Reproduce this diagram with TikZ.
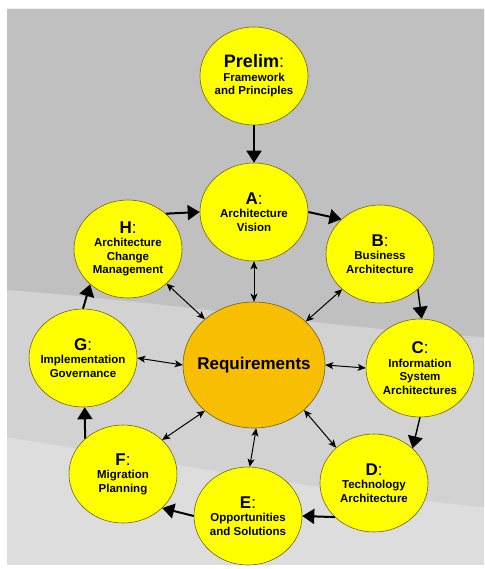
\documentclass[tikz,border=0pt]{standalone}
\usepackage{fontspec}
\setmainfont{Liberation Sans}
\usetikzlibrary{shapes.geometric,arrows.meta}
\definecolor{phase}{RGB}{255,255,0}
\definecolor{req}{RGB}{248,190,0}
\definecolor{rim}{RGB}{110,100,30}
\definecolor{bgtop}{RGB}{192,192,192}
\definecolor{bgmid}{RGB}{210,210,210}
\definecolor{bglow}{RGB}{221,221,221}
\newcommand{\phasename}[1]{{\fontsize{17}{17}\selectfont #1\mdseries:}}
\begin{document}
\begin{tikzpicture}[x=1pt,y=-1pt]
\tikzstyle{ph}=[ellipse, draw=rim, fill=phase, line width=0.6pt, minimum width=108pt, minimum height=98pt, inner xsep=-15pt, inner ysep=0pt, align=center, font=\fontsize{11.5}{13.5}\selectfont\bfseries]
\tikzstyle{rq}=[ph, fill=req, minimum width=142pt, minimum height=126pt, inner xsep=-30pt, font=\fontsize{17}{17}\selectfont\bfseries]
\tikzstyle{fw}=[line width=2pt, -{Triangle[length=12pt,width=15pt]}]
\tikzstyle{fwthin}=[fw, line width=1.4pt]
\tikzstyle{bw}=[line width=1pt, {Stealth[length=8pt,width=7pt,inset=2pt]}-{Stealth[length=8pt,width=7pt,inset=2pt]}]

% background
\useasboundingbox (0,0) rectangle (484,569);
\fill[white] (0,0) rectangle (484,569);
\fill[bglow] (7,9) rectangle (484,565);
\fill[bgmid] (7,9) -- (484,9) -- (484,507) .. controls (350,495) and (150,460) .. (7,437) -- cycle;
\fill[bgtop] (7,9) -- (484,9) -- (484,337) .. controls (350,330) and (150,300) .. (7,290) -- cycle;

\node[ph] (P) at (254,76) {{\fontsize{18}{18}\selectfont Prelim\mdseries:}\\Framework\\and Principles};
\node[ph] (A) at (254,212) {\phasename{A}\\Architecture\\Vision};
\node[ph] (B) at (380,254) {\phasename{B}\\Business\\Architecture};
\node[ph] (C) at (420,368) {\phasename{C}\\Information\\System\\Architectures};
\node[ph] (D) at (374,483) {\phasename{D}\\Technology\\Architecture};
\node[ph] (E) at (248,516) {\phasename{E}\\Opportunities\\and Solutions};
\node[ph] (F) at (123,474) {\phasename{F}\\Migration\\Planning};
\node[ph] (G) at (83,358) {\phasename{G}\\Implementation\\Governance};
\node[ph] (H) at (128,249) {\phasename{H}\\Architecture\\Change\\Management};

\node[rq] (R) at (254,365) {Requirements};

% cycle
\draw[fw] (P) -- (A);
\draw[fw] (H.43) -- (A.180);
\draw[fw] (A.0) -- (B.138);
\draw[fwthin] (B.-43) -- (C.88);
\draw[fwthin] (C.-90) -- (D.42);
\draw[fw] (D.221) -- (E.0);
\draw[fw] (E.180) -- (F.-41);
\draw[fw] (F.137) -- (G.-88);
\draw[fw] (G.90) -- (H.223);

% to and from requirements
\draw[bw] (A.-90) -- (R.90);
\draw[bw] (H.-42) -- (R.137);
\draw[bw] (B.223) -- (R.40);
\draw[bw] (G.0) -- (R.180);
\draw[bw] (C.180) -- (R.0);
\draw[bw] (F.41) -- (R.223);
\draw[bw] (E.88) -- (R.-88);
\draw[bw] (D.137) -- (R.-42);
\end{tikzpicture}
\end{document}
